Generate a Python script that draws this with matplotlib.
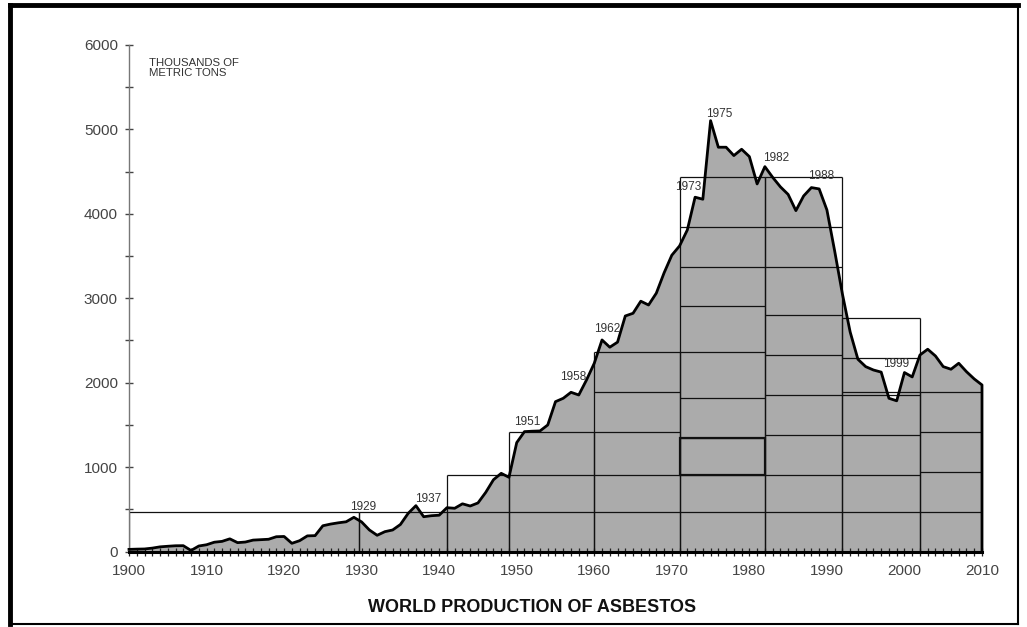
import matplotlib
matplotlib.use("Agg")
import matplotlib.pyplot as plt
from matplotlib.patches import Rectangle
from matplotlib.lines import Line2D
from matplotlib.ticker import MultipleLocator

plt.rcParams['font.family'] = ['Liberation Sans', 'DejaVu Sans']

# ---------------- data ----------------
years = list(range(1900, 2011))
production = [
    25, 28, 30, 40, 55, 62, 68, 69, 12, 65,            # 1900-1909
    80, 110, 120, 150, 105, 112, 135, 140, 145, 175,   # 1910-1919
    178, 97, 128, 185, 188, 305, 325, 340, 352, 405,   # 1920-1929
    350, 255, 192, 235, 255, 320, 452, 543, 412, 424,  # 1930-1939
    430, 519, 512, 565, 539, 575, 700, 850, 926, 879,  # 1940-1949
    1290, 1420, 1425, 1428, 1499, 1775, 1815, 1886, 1854, 2032,  # 1950-1959
    2230, 2506, 2420, 2480, 2790, 2822, 2965, 2920, 3060, 3300,  # 1960-1969
    3510, 3620, 3809, 4197, 4173, 5104, 4789, 4789, 4690, 4765,  # 1970-1979
    4678, 4354, 4559, 4433, 4320, 4230, 4038, 4212, 4311, 4295,  # 1980-1989
    4046, 3560, 3050, 2600, 2277, 2190, 2150, 2125, 1815, 1785,  # 1990-1999
    2120, 2068, 2328, 2396, 2316, 2190, 2159, 2230, 2130, 2044,  # 2000-2009
    1973,                                                        # 2010
]

# box grid: column edges (years) and horizontal levels inside each column
box_edges = [1900, 1929.7, 1941, 1949, 1960, 1971, 1982, 1992, 2002, 2010]
box_levels = [
    [472],
    [472],
    [472, 906],
    [472, 906, 1420],
    [472, 906, 1420, 1893, 2367],
    [472, 910, 1345, 1815, 2367, 2905, 3374, 3848, 4434],
    [472, 910, 1380, 1854, 2328, 2802, 3374, 3848, 4434],
    [472, 910, 1380, 1858, 1895, 2289, 2763],
    [472, 946, 1420, 1893],
]
highlight_box = (1971, 1982, 910, 1345)

# annotated years with label positions (year, value)
ann_text = ["1929", "1937", "1951", "1958", "1962", "1973", "1975", "1982", "1988", "1999"]
ann_x = [1930.2, 1938.6, 1951.4, 1957.3, 1961.6, 1972.1, 1976.1, 1983.5, 1989.2, 1998.9]
ann_y = [531, 618, 1538, 2071, 2636, 4322, 5184, 4666, 4449, 2222]

x_major = list(range(1900, 2011, 10))
y_major = list(range(0, 6001, 1000))

# ---------------- figure ----------------
W, H = 1027, 627
fig = plt.figure(figsize=(W / 100, H / 100), dpi=100)
fig.patch.set_facecolor('white')

ax_l, ax_r, ax_b, ax_t = 129, 982, 551.5, 45
ax = fig.add_axes([ax_l / W, 1 - ax_b / H, (ax_r - ax_l) / W, (ax_b - ax_t) / H])
ax.set_xlim(1900, 2010)
ax.set_ylim(0, 6000)
ax.set_facecolor('white')

# filled area
ax.fill_between(years, production, 0, color='#ababab', lw=0, zorder=1)

# boxes
for i, levels in enumerate(box_levels):
    x0, x1 = box_edges[i], box_edges[i + 1]
    top = max(levels)
    ax.vlines([x0, x1], 0, top, colors='#111111', lw=0.9, zorder=2)
    ax.hlines(levels, x0, x1, colors='#111111', lw=0.9, zorder=2)
hx0, hx1, hy0, hy1 = highlight_box
ax.add_patch(Rectangle((hx0, hy0), hx1 - hx0, hy1 - hy0, fill=False,
                       ec='#111111', lw=1.6, zorder=2))

# curve
ax.plot(years + [years[-1]], production + [0], color='black', lw=2.0,
        zorder=3, clip_on=False, solid_joinstyle='round')

# annotations
for t, xv, yv in zip(ann_text, ann_x, ann_y):
    ax.text(xv, yv, t, ha='center', va='center', fontsize=8.5, color='#333333', zorder=4)

ax.text(0.024, 0.975, "THOUSANDS OF\nMETRIC TONS", transform=ax.transAxes,
        ha='left', va='top', fontsize=8.2, color='#333333', linespacing=1.0)

# spines
for s in ['top', 'right']:
    ax.spines[s].set_visible(False)
ax.spines['left'].set_color('#777777')
ax.spines['left'].set_linewidth(1.0)
ax.spines['bottom'].set_color('black')
ax.spines['bottom'].set_linewidth(2.2)
ax.spines['bottom'].set_zorder(5)

ax.set_xticks(x_major)
ax.set_xticklabels([str(v) for v in x_major])
ax.xaxis.set_minor_locator(MultipleLocator(1))
ax.set_yticks(y_major)
ax.set_yticklabels([str(v) for v in y_major])
ax.yaxis.set_minor_locator(MultipleLocator(500))

ax.tick_params(axis='x', which='both', direction='inout', length=6, width=0.9,
               color='#222222', labelsize=11, labelcolor='#444444', pad=6)
ax.tick_params(axis='y', which='both', direction='inout', length=6, width=1.0,
               color='#444444', labelsize=11, labelcolor='#444444', pad=5)

# title
fig.text(532 / W, 1 - 607 / H, "WORLD PRODUCTION OF ASBESTOS", ha='center',
         va='center', fontsize=13, fontweight='bold', color='#111111')

# frame around figure
frame_x0, frame_x1, frame_y0, frame_y1 = 10, 1018, 5, 624
fig.add_artist(Line2D([frame_x0 / W, frame_x0 / W], [1 - frame_y0 / H, 1 - frame_y1 / H],
                      transform=fig.transFigure, color='black', lw=3.5))
fig.add_artist(Line2D([frame_x0 / W, frame_x1 / W], [1 - frame_y0 / H, 1 - frame_y0 / H],
                      transform=fig.transFigure, color='black', lw=3.5))
fig.add_artist(Line2D([frame_x1 / W, frame_x1 / W], [1 - frame_y0 / H, 1 - frame_y1 / H],
                      transform=fig.transFigure, color='black', lw=1.5))
fig.add_artist(Line2D([frame_x0 / W, frame_x1 / W], [1 - frame_y1 / H, 1 - frame_y1 / H],
                      transform=fig.transFigure, color='black', lw=1.5))

fig.savefig("out.png", dpi=100, facecolor='white')
